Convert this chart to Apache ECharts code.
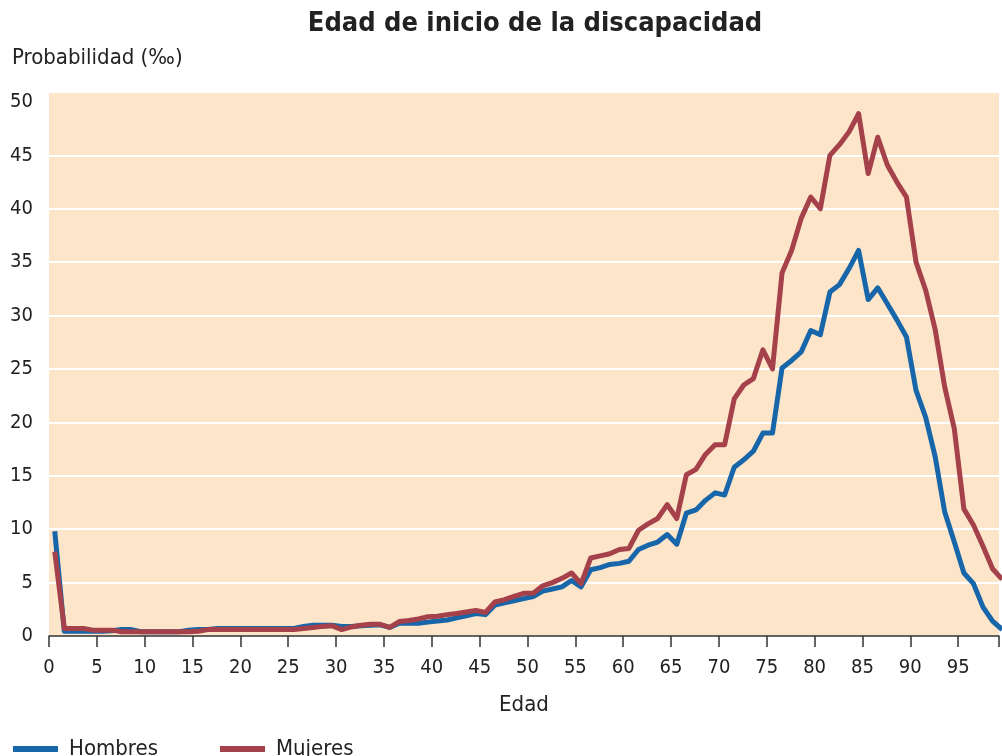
<!DOCTYPE html>
<html>
<head>
<meta charset="utf-8">
<script src="https://cdn.jsdelivr.net/npm/echarts@6/dist/echarts.min.js"></script>
<style>
html,body{margin:0;padding:0;background:#fff;}
#chart{width:1002px;height:756px;}
</style>
</head>
<body>
<div id="chart"></div>
<script>
const title = 'Edad de inicio de la discapacidad';
const yName = 'Probabilidad (‰)';
const xName = 'Edad';
const seriesNames = ['Hombres', 'Mujeres'];

const ages = [0,1,2,3,4,5,6,7,8,9,10,11,12,13,14,15,16,17,18,19,
  20,21,22,23,24,25,26,27,28,29,30,31,32,33,34,35,36,37,38,39,
  40,41,42,43,44,45,46,47,48,49,50,51,52,53,54,55,56,57,58,59,
  60,61,62,63,64,65,66,67,68,69,70,71,72,73,74,75,76,77,78,79,
  80,81,82,83,84,85,86,87,88,89,90,91,92,93,94,95,96,97,98,99];

const hombres = [9.8,0.45,0.45,0.45,0.45,0.45,0.5,0.6,0.6,0.4,
  0.4,0.4,0.4,0.4,0.55,0.6,0.6,0.7,0.7,0.7,
  0.7,0.7,0.7,0.7,0.7,0.7,0.9,1.0,1.0,1.0,
  0.9,0.9,0.95,1.0,1.05,0.8,1.2,1.2,1.2,1.3,
  1.4,1.5,1.7,1.9,2.1,2.0,2.9,3.1,3.3,3.5,
  3.7,4.2,4.4,4.6,5.2,4.6,6.2,6.4,6.7,6.8,
  7.0,8.1,8.5,8.8,9.5,8.6,11.5,11.8,12.7,13.4,
  13.2,15.8,16.5,17.3,19.0,19.0,25.1,25.8,26.6,28.6,
  28.2,32.2,32.9,34.4,36.1,31.5,32.6,31.1,29.6,28.0,
  23.0,20.5,16.8,11.6,8.8,5.9,4.9,2.7,1.4,0.6];

const mujeres = [7.9,0.7,0.7,0.7,0.55,0.55,0.55,0.4,0.4,0.4,
  0.4,0.4,0.4,0.4,0.4,0.45,0.6,0.6,0.6,0.6,
  0.6,0.6,0.6,0.6,0.6,0.6,0.7,0.8,0.9,0.95,
  0.6,0.85,1.0,1.1,1.1,0.8,1.35,1.45,1.6,1.8,
  1.85,2.0,2.1,2.25,2.4,2.2,3.2,3.4,3.7,4.0,
  4.0,4.7,5.0,5.4,5.9,4.9,7.3,7.5,7.7,8.1,
  8.2,9.9,10.5,11.0,12.3,11.0,15.1,15.6,17.0,17.9,
  17.9,22.2,23.5,24.1,26.8,25.0,34.0,36.1,39.1,41.1,
  40.0,45.0,46.0,47.2,48.9,43.3,46.7,44.1,42.5,41.1,
  35.0,32.4,28.7,23.3,19.4,11.9,10.4,8.4,6.3,5.3];

// values are plotted within each year of age
const ageShift = 0.6;

const fontNarrow = '"Liberation Sans Narrow", "DejaVu Sans Condensed", "Liberation Sans", sans-serif';

const chart = echarts.init(document.getElementById('chart'));
const pair = (vals) => ages.map((a, i) => [a + ageShift, vals[i]]);

chart.setOption({
  animation: false,
  backgroundColor: '#ffffff',
  textStyle: { fontFamily: fontNarrow },
  title: {
    text: title,
    left: 530, textAlign: 'center', top: 5,
    textStyle: { fontFamily: fontNarrow, fontWeight: 'bold', fontSize: 27, color: '#222' }
  },
  graphic: [{
    type: 'text', left: 12, top: 47,
    style: { text: yName, fontFamily: fontNarrow, fontSize: 22, fill: '#222' }
  }],
  legend: {
    left: 8, top: 733,
    itemWidth: 45, itemHeight: 6, itemGap: 62,
    icon: 'rect',
    textStyle: { fontFamily: fontNarrow, fontSize: 22, color: '#222', padding: [0, 0, 0, 6] },
    data: seriesNames
  },
  grid: {
    left: 49, right: 0, top: 93, bottom: 120,
    show: true, backgroundColor: '#fde5c9', borderWidth: 0
  },
  xAxis: {
    type: 'value', min: 0, max: 99.27, interval: 5,
    name: xName, nameLocation: 'middle', nameGap: 58,
    nameTextStyle: { fontFamily: fontNarrow, fontSize: 22, color: '#222' },
    axisLine: { show: true, lineStyle: { color: '#333', width: 1.5 } },
    axisTick: { show: true, length: 11, lineStyle: { color: '#333', width: 1.5 } },
    axisLabel: {
      fontFamily: fontNarrow, fontSize: 20, color: '#222', margin: 22,
      formatter: v => (Math.abs(v % 5) < 1e-6 ? String(v) : '')
    },
    splitLine: { show: false }
  },
  yAxis: {
    type: 'value', min: 0, max: 50.84, interval: 5,
    axisLine: { show: false },
    axisTick: { show: false },
    axisLabel: {
      fontFamily: fontNarrow, fontSize: 20, color: '#222', margin: 16,
      formatter: v => (Math.abs(v % 5) < 1e-6 ? String(v) : '')
    },
    splitLine: {
      show: true,
      lineStyle: {
        width: 2,
        color: ['rgba(0,0,0,0)', '#ffffff', '#ffffff', '#ffffff', '#ffffff', '#ffffff',
                '#ffffff', '#ffffff', '#ffffff', '#ffffff', 'rgba(0,0,0,0)', 'rgba(0,0,0,0)']
      }
    }
  },
  series: [
    {
      name: seriesNames[0], type: 'line', data: pair(hombres),
      symbol: 'none', clip: true,
      lineStyle: { color: '#1766aa', width: 5, join: 'round' },
      itemStyle: { color: '#1766aa' }
    },
    {
      name: seriesNames[1], type: 'line', data: pair(mujeres),
      symbol: 'none', clip: true,
      lineStyle: { color: '#a5414a', width: 5, join: 'round' },
      itemStyle: { color: '#a5414a' }
    }
  ]
});
</script>
</body>
</html>
